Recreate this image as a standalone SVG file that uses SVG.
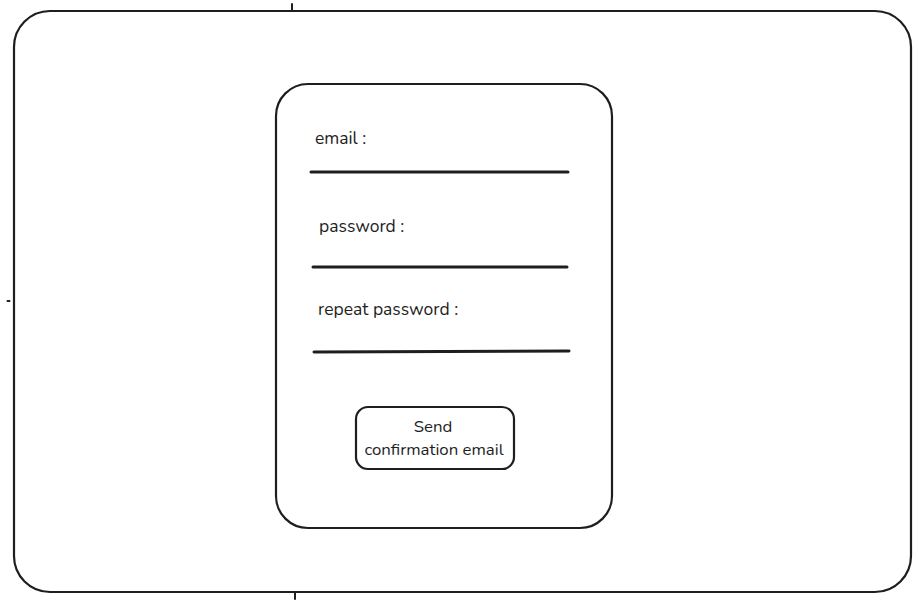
<svg xmlns="http://www.w3.org/2000/svg" width="918" height="600" viewBox="0 0 918 600">
<style>
.box{fill:none;stroke:#1e1e1e;stroke-width:2.2;stroke-linecap:round}
.line{stroke:#1e1e1e;stroke-width:3;stroke-linecap:round;fill:none}
.tick{stroke:#1e1e1e;stroke-width:2;stroke-linecap:round}
.t{font-family:"Nunito","Lato","Open Sans",sans-serif;font-size:17.5px;fill:#1e1e1e}
.b{font-size:16.8px}
</style>
<rect width="918" height="600" fill="#ffffff"/>
<g id="frame">
<rect class="box" x="14" y="11" width="897" height="581" rx="36" ry="36"/>
<line class="tick" x1="292" y1="4" x2="292" y2="10"/>
<line class="tick" x1="295" y1="593" x2="295" y2="599"/>
<line class="tick" x1="7.5" y1="301" x2="9.5" y2="301"/>
</g>
<g id="card">
<rect class="box" x="276" y="84" width="336" height="444" rx="32" ry="32"/>
</g>
<g id="email">
<text class="t" x="315" y="144">email :</text>
<line class="line" x1="311" y1="172" x2="568" y2="172"/>
</g>
<g id="password">
<text class="t" x="319" y="232">password :</text>
<line class="line" x1="313" y1="267" x2="567" y2="267"/>
</g>
<g id="repeat-password">
<text class="t" x="318" y="315">repeat password :</text>
<line class="line" x1="314" y1="352" x2="569" y2="351"/>
</g>
<g id="button">
<rect class="box" x="356" y="407" width="158" height="62" rx="12" ry="12"/>
<text class="t b" x="433" y="432" text-anchor="middle">Send</text>
<text class="t b" x="434" y="455" text-anchor="middle">confirmation email</text>
</g>
<g id="connectors"></g>
</svg>
